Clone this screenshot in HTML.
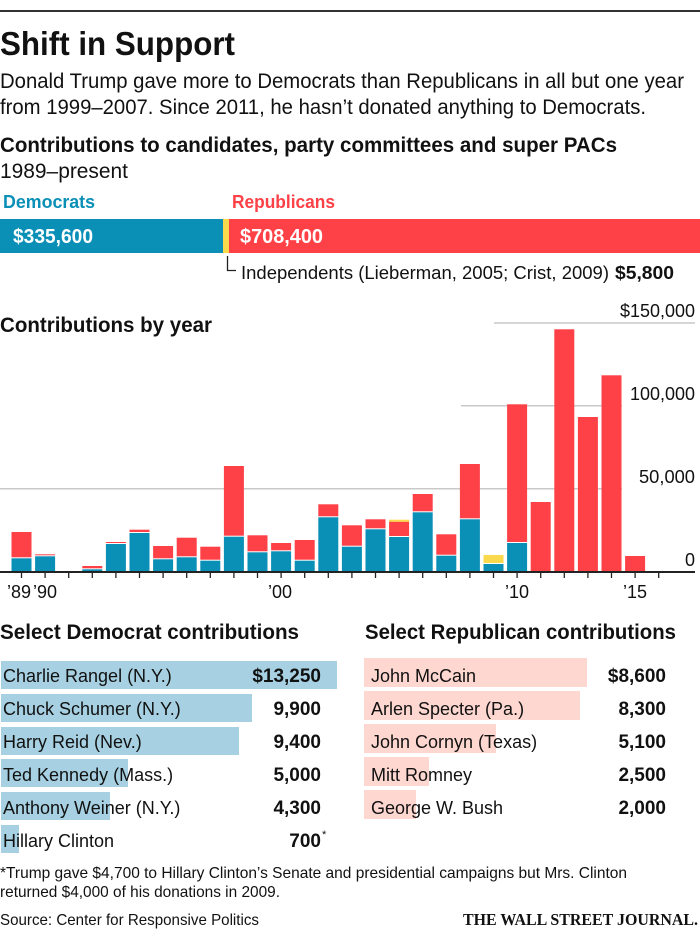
<!DOCTYPE html>
<html><head><meta charset="utf-8"><style>
html,body{margin:0;padding:0;background:#fff}
svg{display:block}
text{font-family:"Liberation Sans",sans-serif;fill:#111}
.b{font-weight:bold}
</style></head><body>
<svg id="s" width="700" height="930" viewBox="0 0 700 930" xmlns="http://www.w3.org/2000/svg">
<rect x="0" y="10" width="700" height="2" fill="#333"/>
<text x="0" y="55" class="b" font-size="33" textLength="235" lengthAdjust="spacingAndGlyphs">Shift in Support</text>
<text x="0" y="88" font-size="21" textLength="684" lengthAdjust="spacingAndGlyphs">Donald Trump gave more to Democrats than Republicans in all but one year</text>
<text x="0" y="114" font-size="21" textLength="646" lengthAdjust="spacingAndGlyphs">from 1999–2007. Since 2011, he hasn’t donated anything to Democrats.</text>
<text x="0" y="152" class="b" font-size="21" textLength="617" lengthAdjust="spacingAndGlyphs">Contributions to candidates, party committees and super PACs</text>
<text x="0" y="178" font-size="21" textLength="128" lengthAdjust="spacingAndGlyphs">1989–present</text>
<text x="3" y="208" class="b" font-size="18" style="fill:#0a8fb7" textLength="92" lengthAdjust="spacingAndGlyphs">Democrats</text>
<text x="232" y="208" class="b" font-size="18" style="fill:#fe4147" textLength="103" lengthAdjust="spacingAndGlyphs">Republicans</text>
<rect x="0" y="219" width="223" height="34" fill="#0a8fb7"/>
<rect x="223" y="219" width="6" height="34" fill="#fbd94c"/>
<rect x="229" y="219" width="471" height="34" fill="#fe4147"/>
<text x="13" y="243" class="b" font-size="20" style="fill:#fff" textLength="80" lengthAdjust="spacingAndGlyphs">$335,600</text>
<text x="240" y="243" class="b" font-size="20" style="fill:#fff" textLength="83" lengthAdjust="spacingAndGlyphs">$708,400</text>
<path d="M227.5 256 V270.5 H236" stroke="#222" stroke-width="1.3" fill="none"/>
<text x="241" y="279" font-size="18" textLength="368" lengthAdjust="spacingAndGlyphs">Independents (Lieberman, 2005; Crist, 2009)</text>
<text x="615" y="279" class="b" font-size="18" textLength="59" lengthAdjust="spacingAndGlyphs">$5,800</text>

<text x="0" y="332" class="b" font-size="21" textLength="212" lengthAdjust="spacingAndGlyphs">Contributions by year</text>
<g stroke="#c9c9c9" stroke-width="1.5">
<line x1="494" y1="323" x2="695" y2="323"/>
<line x1="461" y1="405.7" x2="622" y2="405.7"/>
<line x1="0" y1="488.7" x2="622" y2="488.7"/>
</g>
<g font-size="18" text-anchor="end">
<text x="695" y="317" textLength="75" lengthAdjust="spacingAndGlyphs">$150,000</text>
<text x="695" y="400" textLength="65" lengthAdjust="spacingAndGlyphs">100,000</text>
<text x="695" y="483" textLength="56" lengthAdjust="spacingAndGlyphs">50,000</text>
<text x="695" y="566">0</text>
</g>
<g id="bars"></g>
<rect x="0" y="571" width="695" height="2" fill="#222"/>
<g id="ticks" stroke="#222" stroke-width="1.3"></g>
<g font-size="18">
<text x="7" y="598">’89</text><text x="33" y="598">’90</text>
<text x="280" y="598" text-anchor="middle">’00</text>
<text x="517" y="598" text-anchor="middle">’10</text>
<text x="635" y="598" text-anchor="middle">’15</text>
</g>

<text x="0" y="639" class="b" font-size="21" textLength="299" lengthAdjust="spacingAndGlyphs">Select Democrat contributions</text>
<text x="365" y="639" class="b" font-size="21" textLength="311" lengthAdjust="spacingAndGlyphs">Select Republican contributions</text>
<g fill="#a7d1e2">
<rect x="1" y="661" width="336" height="28"/>
<rect x="1" y="694" width="251" height="28"/>
<rect x="1" y="727" width="238" height="28"/>
<rect x="1" y="759" width="127" height="28"/>
<rect x="1" y="792" width="109" height="28"/>
<rect x="1" y="825" width="18" height="28"/>
</g>
<g fill="#fdd7d0">
<rect x="364" y="658" width="223" height="29"/>
<rect x="364" y="691" width="216" height="29"/>
<rect x="364" y="724" width="132" height="29"/>
<rect x="364" y="757" width="65" height="29"/>
<rect x="364" y="790" width="52" height="29"/>
</g>
<g font-size="18">
<text x="3" y="682">Charlie Rangel (N.Y.)</text>
<text x="3" y="715">Chuck Schumer (N.Y.)</text>
<text x="3" y="748">Harry Reid (Nev.)</text>
<text x="3" y="781">Ted Kennedy (Mass.)</text>
<text x="3" y="814">Anthony Weiner (N.Y.)</text>
<text x="3" y="847">Hillary Clinton</text>
<text x="371" y="682">John McCain</text>
<text x="371" y="715">Arlen Specter (Pa.)</text>
<text x="371" y="748">John Cornyn (Texas)</text>
<text x="371" y="781">Mitt Romney</text>
<text x="371" y="814">George W. Bush</text>
</g>
<g font-size="19" class="b" text-anchor="end">
<text x="321" y="682">$13,250</text>
<text x="321" y="715">9,900</text>
<text x="321" y="748">9,400</text>
<text x="321" y="781">5,000</text>
<text x="321" y="814">4,300</text>
<text x="321" y="847">700</text>
<text x="666" y="682">$8,600</text>
<text x="666" y="715">8,300</text>
<text x="666" y="748">5,100</text>
<text x="666" y="781">2,500</text>
<text x="666" y="814">2,000</text>
</g>
<text x="322" y="838" font-size="11">*</text>
<text x="0" y="878" font-size="16" textLength="627" lengthAdjust="spacingAndGlyphs">*Trump gave $4,700 to Hillary Clinton’s Senate and presidential campaigns but Mrs. Clinton</text>
<text x="0" y="897" font-size="16" textLength="280" lengthAdjust="spacingAndGlyphs">returned $4,000 of his donations in 2009.</text>
<text x="0" y="925" font-size="16" textLength="259" lengthAdjust="spacingAndGlyphs">Source: Center for Responsive Politics</text>
<text x="463" y="925" font-size="17" class="b" style="font-family:'Liberation Serif',serif" textLength="235" lengthAdjust="spacingAndGlyphs">THE WALL STREET JOURNAL.</text>
</svg>
<script>
var d=[[0,558.3,532],[1,556.3,554.3],[3,569.3,566],[4,544,542],[5,533,529.7],[6,559.3,546],[7,557.3,537.7],[8,560.7,546.7],[9,536.7,466],[10,552.3,535.3],[11,551.3,543],[12,560.7,540],[13,517.3,504.3],[14,546.7,525.3],[15,529.3,519.3],[16,537,521.7,519.7],[17,512.3,494],[18,555.7,534.3],[19,519.3,464],[20,564,0,555],[21,543,404.3],[22,0,502],[23,0,329.3],[24,0,417],[25,0,375.3],[26,0,556]];
var NS="http://www.w3.org/2000/svg",g=document.getElementById("bars"),t=document.getElementById("ticks");
function r(x,y,h,c){var e=document.createElementNS(NS,"rect");e.setAttribute("x",x);e.setAttribute("y",y);e.setAttribute("width",20);e.setAttribute("height",h);e.setAttribute("fill",c);g.appendChild(e);}
for(var i=0;i<=27;i++){var cx=21.5+23.6*i;var l=document.createElementNS(NS,"line");l.setAttribute("x1",cx);l.setAttribute("x2",cx);l.setAttribute("y1",572);l.setAttribute("y2",578);t.appendChild(l);}
d.forEach(function(a){var x=21.5+23.6*a[0]-10;var bot=571;
 if(a[1]){r(x,a[1],bot-a[1],"#0a8fb7");bot=a[1]-1;}
 if(a[2]){r(x,a[2],bot-a[2],"#fe4147");bot=a[2];}
 if(a[3]){var yt=a[3];if(!a[2]){r(x,yt,bot-yt,"#fbd94c");}else{r(x,yt,a[2]-yt,"#fbd94c");}}
});
</script>
</body></html>
